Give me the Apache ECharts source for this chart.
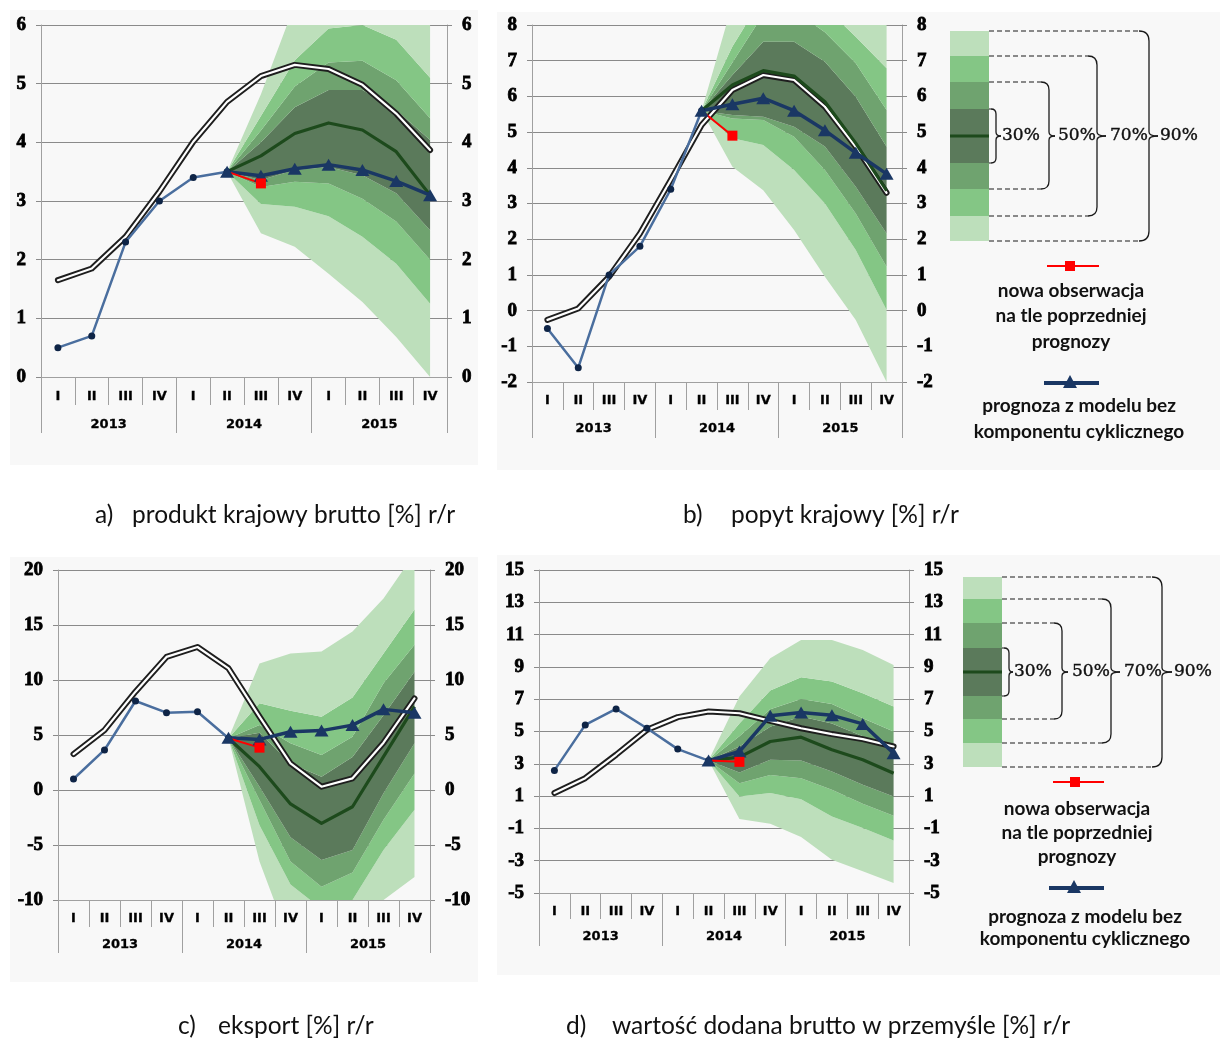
<!DOCTYPE html>
<html>
<head>
<meta charset="utf-8">
<script src="https://cdn.jsdelivr.net/npm/echarts@6/dist/echarts.min.js"></script>
<style>
  html, body { margin: 0; padding: 0; background: #ffffff; }
  #chart { width: 1223px; height: 1039px; }
</style>
</head>
<body>
<div id="chart"></div>
<script>
// ---- categories ----
const quarters = ['I', 'II', 'III', 'IV', 'I', 'II', 'III', 'IV', 'I', 'II', 'III', 'IV'];
const years = ['2013', '2014', '2015'];

// ---- value-axis ticks ----
const ticksGdp = [0, 1, 2, 3, 4, 5, 6];
const ticksDemand = [-2, -1, 0, 1, 2, 3, 4, 5, 6, 7, 8];
const ticksExport = [-10, -5, 0, 5, 10, 15, 20];
const ticksIndustry = [-5, -3, -1, 1, 3, 5, 7, 9, 11, 13, 15];

// Fan and forecast series start at 2014 Q2 (index 5)
const FAN_START = 5;

// ---- a) produkt krajowy brutto ----
const gdpHist = [0.5, 0.7, 2.3, 3.0, 3.4, 3.5];
const gdpForecast = [3.5, 3.43, 3.55, 3.62, 3.53, 3.34, 3.1];
const gdpNewObs = [3.5, 3.3];
const gdpPath = [1.65, 1.85, 2.39, 3.16, 4.01, 4.69, 5.13, 5.32, 5.25, 4.98, 4.49, 3.87];
const gdpMode = [3.5, 3.77, 4.15, 4.33, 4.21, 3.84, 3.1];
const gdpLo90 = [3.5, 2.45, 2.22, 1.76, 1.28, 0.68, 0.0];
const gdpLo70 = [3.5, 2.95, 2.9, 2.74, 2.39, 1.93, 1.25];
const gdpLo50 = [3.5, 3.24, 3.33, 3.3, 3.04, 2.65, 2.0];
const gdpLo30 = [3.5, 3.36, 3.53, 3.58, 3.44, 3.13, 2.5];
const gdpHi30 = [3.5, 4.0, 4.6, 4.89, 4.89, 4.55, 4.04];
const gdpHi50 = [3.5, 4.2, 4.95, 5.36, 5.39, 5.06, 4.41];
const gdpHi70 = [3.5, 4.45, 5.4, 5.94, 6.0, 5.75, 5.1];
const gdpHi90 = [3.5, 4.82, 6.35, 6.6, 6.7, 6.5, 6.3];

// ---- b) popyt krajowy ----
const demHist = [-0.5, -1.6, 1.0, 1.8, 3.4, 5.6];
const demForecast = [5.6, 5.78, 5.95, 5.6, 5.05, 4.42, 3.83];
const demNewObs = [5.6, 4.9];
const demPath = [-0.26, 0.06, 0.95, 2.16, 3.66, 5.2, 6.18, 6.6, 6.46, 5.71, 4.59, 3.3];
const demMode = [5.6, 6.32, 6.72, 6.57, 5.85, 4.69, 3.36];
const demLo90 = [5.6, 4.03, 3.37, 2.26, 0.95, -0.26, -2.0];
const demLo70 = [5.6, 4.83, 4.64, 3.94, 3.0, 1.7, 0.02];
const demLo50 = [5.6, 5.38, 5.34, 4.87, 3.94, 2.72, 1.23];
const demLo30 = [5.6, 5.48, 5.43, 5.15, 4.6, 3.47, 2.16];
const demHi30 = [5.6, 6.6, 7.53, 7.53, 6.97, 5.99, 4.59];
const demHi50 = [5.6, 6.95, 8.3, 8.4, 7.8, 6.93, 5.62];
const demHi70 = [5.6, 7.4, 8.8, 9.0, 8.5, 7.67, 6.79];
const demHi90 = [5.6, 8.6, 9.5, 9.8, 9.3, 8.6, 8.2];

// ---- c) eksport ----
const expHist = [1.0, 3.64, 8.09, 7.03, 7.12, 4.7];
const expForecast = [4.76, 4.6, 5.3, 5.4, 5.9, 7.33, 7.03];
const expNewObs = [4.7, 3.85];
const expPath = [3.27, 5.45, 8.94, 12.1, 13.0, 11.06, 6.67, 2.42, 0.3, 1.06, 4.3, 8.33];
const expMode = [4.7, 2.12, -1.27, -3.03, -1.52, 3.03, 7.58];
const expLo90 = [4.7, -6.5, -14.0, -14.0, -12.5, -10.0, -7.9];
const expLo70 = [4.7, -3.2, -8.6, -10.8, -10.0, -5.45, -1.8];
const expLo50 = [4.7, -0.9, -6.5, -8.8, -7.5, -2.7, 1.5];
const expLo30 = [4.7, 0.3, -4.3, -6.36, -5.45, -0.3, 4.24];
const expHi30 = [4.7, 5.2, 2.4, 1.2, 3.0, 6.8, 10.76];
const expHi50 = [4.7, 5.9, 4.24, 3.18, 4.85, 9.7, 13.2];
const expHi70 = [4.7, 7.88, 7.2, 6.67, 8.4, 12.4, 16.4];
const expHi90 = [4.7, 11.5, 12.4, 12.6, 14.4, 17.4, 21.5];

// ---- d) wartość dodana brutto w przemyśle ----
const indHist = [2.59, 5.41, 6.4, 5.2, 3.91, 3.2];
const indForecast = [3.2, 3.76, 5.97, 6.18, 6.0, 5.47, 3.66];
const indNewObs = [3.2, 3.12];
const indPath = [1.19, 2.11, 3.56, 5.1, 5.89, 6.24, 6.13, 5.66, 5.2, 4.84, 4.53, 4.07];
const indMode = [3.2, 3.41, 4.38, 4.65, 3.87, 3.25, 2.42];
const indLo90 = [3.2, -0.42, -0.71, -1.54, -2.94, -3.66, -4.38];
const indLo70 = [3.2, 0.98, 1.19, 0.81, -0.26, -0.98, -1.75];
const indLo50 = [3.2, 1.8, 2.3, 2.11, 1.39, 0.53, -0.22];
const indLo30 = [3.2, 2.46, 3.25, 3.2, 2.53, 1.7, 0.98];
const indHi30 = [3.2, 4.07, 5.3, 5.93, 5.5, 4.7, 3.9];
const indHi50 = [3.2, 4.7, 6.38, 7.02, 6.71, 5.82, 5.0];
const indHi70 = [3.2, 5.5, 7.54, 8.36, 8.09, 7.37, 6.55];
const indHi90 = [3.2, 7.16, 9.54, 10.67, 10.67, 10.05, 9.12];

// ---- colours ----
const C90 = '#bddfbb';
const C70 = '#84c685';
const C50 = '#6fa36f';
const C30 = '#5b7a5b';
const MODE = '#1d4a1c';
const HIST = '#4a6e9e';
const HIST_DOT = '#0e2446';
const NAVY = '#1a3764';
const RED = '#ff0000';
const GRIDC = '#8a8a8a';
const AXISC = '#a0a0a0';

const panels = [
  { ticks: ticksGdp, min: 0, max: 6, hist: gdpHist, forecast: gdpForecast, obs: gdpNewObs, path: gdpPath, mode: gdpMode,
    lo90: gdpLo90, lo70: gdpLo70, lo50: gdpLo50, lo30: gdpLo30, hi30: gdpHi30, hi50: gdpHi50, hi70: gdpHi70, hi90: gdpHi90,
    box: { left: 41, right: 776, top: 25, bottom: 662 }, qTick: 28, yTick: 56, qMargin: 13, yMargin: 41 },
  { ticks: ticksDemand, min: -2, max: 8, hist: demHist, forecast: demForecast, obs: demNewObs, path: demPath, mode: demMode,
    lo90: demLo90, lo70: demLo70, lo50: demLo50, lo30: demLo30, hi30: demHi30, hi50: demHi50, hi70: demHi70, hi90: demHi90,
    box: { left: 532, right: 321, top: 25, bottom: 657 }, qTick: 28, yTick: 56, qMargin: 12, yMargin: 40 },
  { ticks: ticksExport, min: -10, max: 20, hist: expHist, forecast: expForecast, obs: expNewObs, path: expPath, mode: expMode,
    lo90: expLo90, lo70: expLo70, lo50: expLo50, lo30: expLo30, hi30: expHi30, hi50: expHi50, hi70: expHi70, hi90: expHi90,
    box: { left: 58, right: 793, top: 570, bottom: 139 }, qTick: 27, yTick: 53, qMargin: 12, yMargin: 38 },
  { ticks: ticksIndustry, min: -5, max: 15, hist: indHist, forecast: indForecast, obs: indNewObs, path: indPath, mode: indMode,
    lo90: indLo90, lo70: indLo70, lo50: indLo50, lo30: indLo30, hi30: indHi30, hi50: indHi50, hi70: indHi70, hi90: indHi90,
    box: { left: 539, right: 314, top: 570, bottom: 146 }, qTick: 26, yTick: 53, qMargin: 12, yMargin: 37 }
];

function row(vals, start) {
  return quarters.map((_, i) => {
    const k = i - start;
    return (k >= 0 && k < vals.length) ? vals[k] : '-';
  });
}
function diff(a, b) { return a.map((v, i) => +(v - b[i]).toFixed(4)); }

const grids = [], xAxes = [], yAxes = [], series = [];

// heavy serif numerals for the value axes
const serifLabel = { fontFamily: '"Liberation Serif"', fontWeight: 'bold', fontSize: 19, color: '#000',
  textBorderColor: '#000', textBorderWidth: 0.8 };
const sansLabel = { fontFamily: '"DejaVu Sans"', fontWeight: 'bold', fontSize: 13, color: '#000',
  textBorderColor: '#000', textBorderWidth: 0.3 };

panels.forEach((p, g) => {
  grids.push(Object.assign({ outerBoundsMode: 'none', containLabel: false }, p.box));

  // quarter row
  xAxes.push({
    type: 'category', gridIndex: g, data: quarters, position: 'bottom', boundaryGap: true,
    axisLine: { show: true, onZero: false, lineStyle: { color: AXISC, width: 1 } },
    axisTick: { show: true, interval: 0, length: p.qTick, lineStyle: { color: AXISC, width: 1 } },
    axisLabel: Object.assign({ interval: 0, margin: p.qMargin }, sansLabel),
    splitLine: { show: false }
  });
  // year row
  xAxes.push({
    type: 'category', gridIndex: g, data: years, position: 'bottom', boundaryGap: true,
    axisLine: { show: false, onZero: false },
    axisTick: { show: true, interval: 0, length: p.yTick, lineStyle: { color: AXISC, width: 1 } },
    axisLabel: Object.assign({ interval: 0, margin: p.yMargin }, sansLabel),
    splitLine: { show: false }
  });

  const yBase = {
    type: 'value', gridIndex: g, min: p.min, max: p.max,
    axisLine: { show: true, lineStyle: { color: AXISC, width: 1 } },
    axisTick: { show: true, inside: false, length: 5, customValues: p.ticks, lineStyle: { color: GRIDC, width: 1 } }
  };
  yAxes.push(Object.assign({}, yBase, {
    position: 'left',
    axisLabel: Object.assign({ customValues: p.ticks, margin: 15 }, serifLabel),
    splitLine: { show: true, lineStyle: { color: GRIDC, width: 1 } }
  }));
  yAxes.push(Object.assign({}, yBase, {
    position: 'right',
    axisLabel: Object.assign({ customValues: p.ticks, margin: 15, align: 'left' }, serifLabel),
    splitLine: { show: false }
  }));

  const xi = 2 * g, yi = 2 * g;
  const common = { type: 'line', xAxisIndex: xi, yAxisIndex: yi, silent: true, animation: false };
  const fanBase = Object.assign({}, common, {
    symbol: 'none', stack: 'fan' + g, stackStrategy: 'all',
    lineStyle: { width: 0, opacity: 0 }
  });
  const band = (vals, color) => Object.assign({}, fanBase, {
    data: row(vals, FAN_START), areaStyle: { color: color, opacity: 1 }
  });

  // probability fan, stacked from the lowest bound upward
  series.push(Object.assign({}, fanBase, { data: row(p.lo90, FAN_START) }));
  series.push(band(diff(p.lo70, p.lo90), C90));
  series.push(band(diff(p.lo50, p.lo70), C70));
  series.push(band(diff(p.lo30, p.lo50), C50));
  series.push(band(diff(p.hi30, p.lo30), C30));
  series.push(band(diff(p.hi50, p.hi30), C50));
  series.push(band(diff(p.hi70, p.hi50), C70));
  series.push(band(diff(p.hi90, p.hi70), C90));

  // double black path: dark outline with a white core
  series.push(Object.assign({}, common, {
    data: p.path, symbol: 'none',
    lineStyle: { color: '#1e1e1e', width: 6, cap: 'round', join: 'round' }
  }));
  series.push(Object.assign({}, common, {
    data: p.path, symbol: 'none',
    lineStyle: { color: '#ffffff', width: 2.2, cap: 'round', join: 'round' }
  }));

  // central path of the fan
  series.push(Object.assign({}, common, {
    data: row(p.mode, FAN_START), symbol: 'none',
    lineStyle: { color: MODE, width: 3.2, join: 'round' }
  }));

  // observed data
  series.push(Object.assign({}, common, {
    data: row(p.hist, 0), symbol: 'circle', symbolSize: 7,
    lineStyle: { color: HIST, width: 2.5 }, itemStyle: { color: HIST_DOT }
  }));

  // model without the cyclical component
  series.push(Object.assign({}, common, {
    data: row(p.forecast, FAN_START), symbol: 'triangle', symbolSize: [14, 12],
    lineStyle: { color: NAVY, width: 3.5 }, itemStyle: { color: NAVY }
  }));

  // new observation against the previous forecast
  series.push(Object.assign({}, common, {
    data: quarters.map((_, i) => i === FAN_START ? { value: p.obs[0], symbol: 'none' }
                               : (i === FAN_START + 1 ? p.obs[1] : '-')),
    symbol: 'rect', symbolSize: 10,
    lineStyle: { color: RED, width: 2 }, itemStyle: { color: RED }
  }));
});

// ---- graphic: panel backgrounds, fan legends, captions ----
const graphics = [];
[[10, 10, 468, 455], [497, 12, 723, 458], [10, 557, 468, 425], [497, 555, 723, 420]].forEach(r => {
  graphics.push({ type: 'rect', z: -100, silent: true,
    shape: { x: r[0], y: r[1], width: r[2], height: r[3] }, style: { fill: '#f8f8f8' } });
});

function txt(text, x, y, font, align, border) {
  const style = { text: text, x: x, y: y, font: font, fill: '#111',
    align: align || 'left', verticalAlign: 'middle',
    textAlign: align || 'left', textVerticalAlign: 'middle' };
  if (border) { style.stroke = '#111'; style.lineWidth = border; }
  return { type: 'text', silent: true, z: 10, style: style };
}
function seg(x1, y1, x2, y2, style) {
  return { type: 'line', silent: true, z: 6, shape: { x1: x1, y1: y1, x2: x2, y2: y2 }, style: style };
}
function curve(x1, y1, cx, cy, x2, y2, style) {
  return { type: 'bezierCurve', silent: true, z: 6,
    shape: { x1: x1, y1: y1, cpx1: cx, cpy1: cy, x2: x2, y2: y2 }, style: style };
}

function fanLegend(L) {
  const cols = [C90, C70, C50, C30, C50, C70, C90];
  for (let i = 0; i < 7; i++) {
    graphics.push({ type: 'rect', silent: true, z: 5,
      shape: { x: L.x0, y: L.ys[i], width: L.x1 - L.x0, height: L.ys[i + 1] - L.ys[i] },
      style: { fill: cols[i] } });
  }
  graphics.push(seg(L.x0, L.mid, L.x1, L.mid, { stroke: MODE, lineWidth: 3 }));
  const labels = ['30%', '50%', '70%', '90%'];
  L.braces.forEach((b, k) => {
    const y1 = L.ys[3 - k], y2 = L.ys[4 + k], ym = L.mid, r = b.r;
    const horiz = { stroke: '#1a1a1a', lineWidth: 1.2 };
    if (k > 0) { horiz.lineDash = [5, 3]; }
    const br = { stroke: '#1a1a1a', lineWidth: 1.3, fill: null };
    graphics.push(seg(L.x1, y1, b.xv - r, y1, horiz));
    graphics.push(seg(L.x1, y2, b.xv - r, y2, horiz));
    graphics.push(curve(b.xv - r, y1, b.xv, y1, b.xv, y1 + r, br));
    graphics.push(seg(b.xv, y1 + r, b.xv, ym - 4, br));
    graphics.push(curve(b.xv, ym - 4, b.xv, ym, b.xt, ym, br));
    graphics.push(curve(b.xt, ym, b.xv, ym, b.xv, ym + 4, br));
    graphics.push(seg(b.xv, ym + 4, b.xv, y2 - r, br));
    graphics.push(curve(b.xv, y2 - r, b.xv, y2, b.xv - r, y2, br));
    graphics.push(txt(labels[k], b.tx, ym, '17px "DejaVu Serif"', 'left', 0.4));
  });
}

function markerLegend(M) {
  graphics.push(seg(M.rx1, M.ry, M.rx2, M.ry, { stroke: RED, lineWidth: 2 }));
  graphics.push({ type: 'rect', silent: true, z: 7,
    shape: { x: M.rc - 5, y: M.ry - 5, width: 10, height: 10 }, style: { fill: RED } });
  M.redText.forEach((t, i) => graphics.push(txt(t, M.rtx, M.rty[i], 'bold 19px Lato', 'center')));
  graphics.push(seg(M.bx1, M.by, M.bx2, M.by, { stroke: NAVY, lineWidth: 4 }));
  graphics.push({ type: 'polygon', silent: true, z: 7,
    shape: { points: [[M.bc - 7, M.by + 5], [M.bc + 7, M.by + 5], [M.bc, M.by - 8]] }, style: { fill: NAVY } });
  M.blueText.forEach((t, i) => graphics.push(txt(t, M.btx, M.bty[i], 'bold 19px Lato', 'center')));
}

const redLines = ['nowa obserwacja', 'na tle poprzedniej', 'prognozy'];
const blueLines = ['prognoza z modelu bez', 'komponentu cyklicznego'];

fanLegend({ x0: 950, x1: 989, ys: [31, 56, 82, 109, 163, 189, 216, 241], mid: 136,
  braces: [ { xv: 996, xt: 1001, tx: 1002, r: 5 }, { xv: 1049, xt: 1055, tx: 1058, r: 8 },
            { xv: 1097, xt: 1106, tx: 1110, r: 9 }, { xv: 1149, xt: 1158, tx: 1160, r: 10 } ] });
markerLegend({ rx1: 1047, rx2: 1099, ry: 266, rc: 1070, rtx: 1071, rty: [291, 316, 342], redText: redLines,
  bx1: 1044, bx2: 1099, by: 383, bc: 1070, btx: 1079, bty: [406, 432], blueText: blueLines });

fanLegend({ x0: 963, x1: 1002, ys: [577, 599, 623, 648, 696, 719, 743, 767], mid: 672,
  braces: [ { xv: 1009, xt: 1013, tx: 1014, r: 5 }, { xv: 1062, xt: 1068, tx: 1072, r: 8 },
            { xv: 1111, xt: 1120, tx: 1124, r: 9 }, { xv: 1162, xt: 1172, tx: 1174, r: 10 } ] });
markerLegend({ rx1: 1053, rx2: 1104, ry: 782, rc: 1075, rtx: 1077, rty: [809, 833, 857], redText: redLines,
  bx1: 1049, bx2: 1104, by: 888, bc: 1074, btx: 1085, bty: [917, 939], blueText: blueLines });

// captions
const capFont = '24.5px Lato';
graphics.push(txt('a)', 95, 515, capFont));
graphics.push(txt('produkt krajowy brutto [%] r/r', 132, 515, capFont));
graphics.push(txt('b)', 683, 515, capFont));
graphics.push(txt('popyt krajowy [%] r/r', 731, 515, capFont));
graphics.push(txt('c)', 178, 1026, capFont));
graphics.push(txt('eksport [%] r/r', 218, 1026, capFont));
graphics.push(txt('d)', 566, 1026, capFont));
graphics.push(txt('wartość dodana brutto w przemyśle [%] r/r', 612, 1026, capFont));

const chart = echarts.init(document.getElementById('chart'), null, { renderer: 'canvas' });
chart.setOption({
  backgroundColor: '#ffffff',
  animation: false,
  grid: grids,
  xAxis: xAxes,
  yAxis: yAxes,
  series: series,
  graphic: { elements: graphics }
});
</script>
</body>
</html>
